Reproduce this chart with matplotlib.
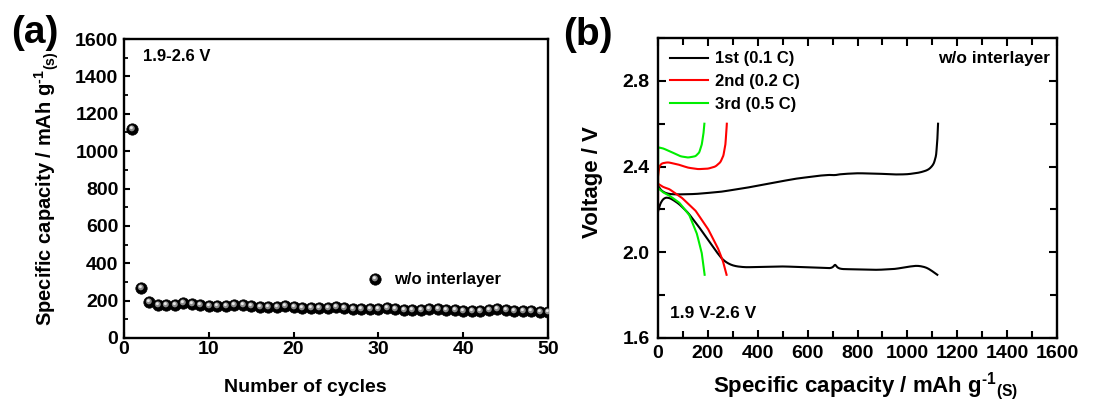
import numpy as np
import matplotlib
matplotlib.use("Agg")
import matplotlib.pyplot as plt
from matplotlib.path import Path
from matplotlib.markers import MarkerStyle
from matplotlib.lines import Line2D
from matplotlib.legend_handler import HandlerTuple
from matplotlib.ticker import MultipleLocator, FormatStrFormatter

# ---------------- data ----------------
# (a) cycling performance, 1.9-2.6 V
cycles = np.arange(1, 51)
capacity = [1118, 268, 190, 178, 175, 176, 186, 181, 176, 173,
            171, 172, 177, 174, 169, 166, 165, 165, 172, 168,
            163, 161, 160, 162, 165, 159, 156, 154, 154, 156,
            160, 154, 151, 149, 148, 154, 156, 151, 148, 146,
            144, 143, 150, 154, 151, 146, 144, 142, 140, 138]

# (b) voltage profiles (discharge / charge)
d1_cap = [0, 10, 25, 40, 60, 85, 120, 160, 200, 236, 260, 285, 310, 350, 420,
          500, 580, 650, 695, 705, 710, 716, 730, 800, 880, 950, 1000, 1040,
          1075, 1100, 1120]
d1_v = [2.19, 2.23, 2.255, 2.257, 2.245, 2.225, 2.185, 2.125, 2.06, 2.0, 1.965,
        1.945, 1.935, 1.930, 1.932, 1.934, 1.931, 1.928, 1.925, 1.932, 1.948,
        1.93, 1.922, 1.920, 1.918, 1.922, 1.932, 1.938, 1.93, 1.912, 1.895]
c1_cap = [0, 15, 40, 80, 150, 250, 350, 450, 550, 650, 700, 705, 712, 750, 800,
          880, 950, 1000, 1050, 1085, 1105, 1115, 1120, 1123]
c1_v = [2.31, 2.285, 2.272, 2.27, 2.272, 2.282, 2.300, 2.322, 2.343, 2.358,
        2.362, 2.356, 2.362, 2.366, 2.369, 2.367, 2.363, 2.364, 2.372, 2.385,
        2.41, 2.45, 2.52, 2.60]

d2_cap = [0, 20, 45, 95, 150, 200, 240, 260, 275]
d2_v = [2.32, 2.305, 2.295, 2.255, 2.195, 2.11, 2.02, 1.96, 1.895]
c2_cap = [0, 0, 5, 15, 40, 80, 120, 160, 200, 230, 250, 262, 270, 274, 276]
c2_v = [2.19, 2.35, 2.40, 2.415, 2.42, 2.41, 2.395, 2.388, 2.39, 2.40, 2.42,
        2.45, 2.50, 2.56, 2.60]

d3_cap = [0, 20, 45, 85, 125, 155, 175, 187]
d3_v = [2.30, 2.28, 2.265, 2.232, 2.175, 2.09, 2.0, 1.895]
c3_cap = [0, 0, 20, 50, 90, 120, 150, 165, 175, 182, 186]
c3_v = [2.29, 2.49, 2.485, 2.47, 2.448, 2.442, 2.448, 2.465, 2.50, 2.55, 2.60]

profile_labels = ["1st (0.1 C)", "2nd (0.2 C)", "3rd (0.5 C)"]
profile_colors = ["black", "#ff0000", "#00ee00"]

# ---------------- style ----------------
plt.rcParams["font.family"] = ["Liberation Sans", "DejaVu Sans"]
plt.rcParams["font.weight"] = "bold"
plt.rcParams["mathtext.fontset"] = "custom"
plt.rcParams["mathtext.rm"] = "Liberation Sans:bold"
plt.rcParams["mathtext.bf"] = "Liberation Sans:bold"
plt.rcParams["mathtext.it"] = "Liberation Sans:bold"
plt.rcParams["mathtext.default"] = "rm"
plt.rcParams["axes.linewidth"] = 1.7


def smooth(x, y, n=400):
    """Resample a traced curve along its arc length and smooth it lightly."""
    x = np.asarray(x, float)
    y = np.asarray(y, float)
    # arc-length parametrisation keeps vertical segments intact
    sx = x / 1600.0
    sy = (y - 1.6) / 1.4
    s = np.concatenate([[0], np.cumsum(np.hypot(np.diff(sx), np.diff(sy)))])
    t = np.linspace(0, s[-1], n)
    xi = np.interp(t, s, x)
    yi = np.interp(t, s, y)
    k = 9
    w = np.ones(k) / k
    xp = np.pad(xi, k // 2, mode="edge")
    yp = np.pad(yi, k // 2, mode="edge")
    xs = np.convolve(xp, w, mode="valid")
    ys = np.convolve(yp, w, mode="valid")
    xs[0], ys[0], xs[-1], ys[-1] = x[0], y[0], x[-1], y[-1]
    return xs, ys


# sphere-like marker: dark ball plus off-centre highlights
def offset_circle(cx, cy, r):
    circ = Path.circle(center=(cx, cy), radius=r)
    # zero-length anchors fix the marker scale so the offset is preserved
    anchor = Path([(-1, -1), (-1, -1), (1, 1), (1, 1)],
                  [Path.MOVETO, Path.LINETO, Path.MOVETO, Path.LINETO])
    return MarkerStyle(Path.make_compound_path(anchor, circ))


ms = 8.2
hl1 = offset_circle(-0.06, 0.10, 0.26)
hl2 = offset_circle(-0.10, 0.16, 0.13)

HY = "\u2010"  # short hyphen for the unit exponent
unit_a = r"Specific capacity / mAh g$^{" + HY + r"1}$$_{(s)}$"
unit_b = r"Specific capacity / mAh g$^{" + HY + r"1}$$_{(S)}$"

fig = plt.figure(figsize=(11.09, 4.09), dpi=100)
ax1 = fig.add_axes([124 / 1109, 71 / 409, 424 / 1109, 299 / 409])
ax2 = fig.add_axes([658 / 1109, 71 / 409, 399 / 1109, 300 / 409])

# ---------------- (a) ----------------
ax1.plot(cycles, capacity, ls="none", marker="o", ms=ms, mfc="black",
         mec="black", mew=0.5, zorder=3)
ax1.plot(cycles, capacity, ls="none", marker=hl1, ms=ms * 2, mfc="#8a8a8a",
         mec="none", zorder=4)
ax1.plot(cycles, capacity, ls="none", marker=hl2, ms=ms * 2, mfc="#e6e6e6",
         mec="none", zorder=5)
ax1.set_xlim(0, 50)
ax1.set_ylim(0, 1600)
ax1.xaxis.set_major_locator(MultipleLocator(10))
ax1.yaxis.set_major_locator(MultipleLocator(200))
ax1.yaxis.set_minor_locator(MultipleLocator(100))
ax1.tick_params(axis="both", which="major", direction="in", length=4,
                width=1.5, labelsize=14, top=False, right=False)
ax1.tick_params(axis="x", pad=2)
ax1.tick_params(axis="y", pad=4)
ax1.tick_params(axis="y", which="minor", direction="in", length=3, width=1.3)
ax1.set_xlabel("Number of cycles", fontsize=14, fontweight="bold")
ax1.xaxis.set_label_coords(0.427, -0.167)
ax1.xaxis.label.set_verticalalignment("center")
ax1.set_ylabel(unit_a, fontsize=14.5, fontweight="bold")
ax1.yaxis.set_label_coords(-0.182, 0.5)
ax1.yaxis.label.set_verticalalignment("center")
ax1.text(0.045, 0.943, "1.9-2.6 V", transform=ax1.transAxes, fontsize=12,
         fontweight="bold", ha="left", va="center")

h_ball = (Line2D([], [], ls="none", marker="o", ms=ms, mfc="black",
                 mec="black", mew=0.5),
          Line2D([], [], ls="none", marker=hl1, ms=ms * 2, mfc="#8a8a8a",
                 mec="none"),
          Line2D([], [], ls="none", marker=hl2, ms=ms * 2, mfc="#e6e6e6",
                 mec="none"))
ax1.legend([h_ball], ["w/o interlayer"],
           handler_map={tuple: HandlerTuple(ndivide=1, pad=0)},
           loc="center left", bbox_to_anchor=(0.565, 0.194), frameon=False,
           fontsize=12, handlelength=1.4, handletextpad=0.45, borderpad=0,
           borderaxespad=0)

# ---------------- (b) ----------------
profiles = [(d1_cap, d1_v, c1_cap, c1_v),
            (d2_cap, d2_v, c2_cap, c2_v),
            (d3_cap, d3_v, c3_cap, c3_v)]
for (dc, dv, cc, cv), col, lab in zip(profiles, profile_colors, profile_labels):
    xs, ys = smooth(dc, dv)
    ax2.plot(xs, ys, color=col, lw=1.5, label=lab)
    xs, ys = smooth(cc, cv)
    ax2.plot(xs, ys, color=col, lw=1.5)

ax2.set_xlim(0, 1600)
ax2.set_ylim(1.6, 3.0)
ax2.xaxis.set_major_locator(MultipleLocator(200))
ax2.xaxis.set_minor_locator(MultipleLocator(100))
ax2.yaxis.set_major_locator(MultipleLocator(0.4))
ax2.yaxis.set_minor_locator(MultipleLocator(0.2))
ax2.yaxis.set_major_formatter(FormatStrFormatter("%.1f"))
ax2.tick_params(axis="both", which="both", direction="in", top=True,
                right=True, width=1.5, labelsize=14)
ax2.tick_params(which="major", length=6)
ax2.tick_params(which="minor", length=5)
ax2.tick_params(axis="x", pad=5)
ax2.tick_params(axis="y", pad=6)
ax2.set_xlabel(unit_b, fontsize=16, fontweight="bold")
ax2.xaxis.set_label_coords(0.521, -0.16)
ax2.xaxis.label.set_verticalalignment("center")
ax2.set_ylabel("Voltage / V", fontsize=16, fontweight="bold")
ax2.yaxis.set_label_coords(-0.163, 0.52)
ax2.yaxis.label.set_verticalalignment("center")

ax2.legend(loc="upper left", bbox_to_anchor=(0.03, 0.955), frameon=False,
           fontsize=12, handlelength=2.3, handletextpad=0.4, labelspacing=0.45,
           borderpad=0, borderaxespad=0)
ax2.text(0.982, 0.933, "w/o interlayer", transform=ax2.transAxes, fontsize=12.5,
         fontweight="bold", ha="right", va="center")
ax2.text(0.03, 0.083, "1.9 V-2.6 V", transform=ax2.transAxes, fontsize=12.5,
         fontweight="bold", ha="left", va="center")

# panel letters
fig.text(35 / 1109, 1 - 33 / 409, "(a)", fontsize=28, fontweight="bold",
         ha="center", va="center")
fig.text(588 / 1109, 1 - 35 / 409, "(b)", fontsize=28, fontweight="bold",
         ha="center", va="center")

fig.savefig("out.png", dpi=100)
